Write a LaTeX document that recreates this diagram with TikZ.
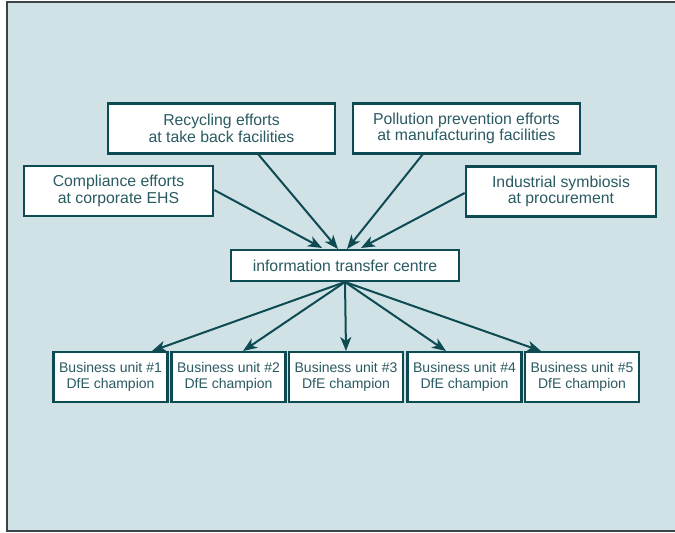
\documentclass[tikz,border=0pt]{standalone}
\usepackage{fontspec}
\setmainfont{Liberation Sans}
\usetikzlibrary{arrows.meta}
\definecolor{bg}{HTML}{D0E2E6}
\definecolor{teal}{HTML}{0E4A52}
\definecolor{txt}{HTML}{2A5A62}
\definecolor{frame}{HTML}{3A4448}
\begin{document}
\begin{tikzpicture}[x=1pt,y=-1pt,
  box/.style={draw=teal,line width=2.6pt,fill=white,inner sep=0pt,align=center,
    text=txt,font=\fontsize{15.8}{16.3}\selectfont},
  bubox/.style={box,font=\fontsize{14}{16.3}\selectfont},
  conn/.style={draw=teal,line width=2pt,-{Stealth[length=14pt,width=11pt,inset=4pt]}}]
\useasboundingbox (0,0) rectangle (675,533);
\draw[fill=bg,draw=frame,line width=1.5pt] (7,2) rectangle (680,531);
% top boxes
\node[box,minimum width=227pt,minimum height=50pt] (rec) at (221.5,128.5) {Recycling efforts\\at take back facilities};
\node[box,minimum width=227pt,minimum height=50pt] (pol) at (466.5,128.5) {Pollution prevention efforts\\at manufacturing facilities};
\node[box,minimum width=189pt,minimum height=50pt] (com) at (118.5,191) {Compliance efforts\\at corporate EHS};
\node[box,minimum width=190pt,minimum height=50pt] (ind) at (561,191.5) {Industrial symbiosis\\at procurement};
\node[box,minimum width=228pt,minimum height=31pt] (info) at (345,265.5) {information transfer centre};
% business units
\foreach \i/\x in {1/110.5,2/228.5,3/346,4/464.5,5/582}{
  \node[bubox,minimum width=114pt,minimum height=50pt] (bu\i) at (\x,377) {Business unit \#\i\\DfE champion};
}
% connectors in
\coordinate (tc) at (322,248);
\coordinate (tr) at (338,249);
\coordinate (tp) at (347,249);
\coordinate (ti) at (361,248);
\draw[conn] (com.east |- 0,190) -- (tc);
\draw[conn] (258,154) -- (tr);
\draw[conn] (423,154) -- (tp);
\draw[conn] (ind.west |- 0,193) -- (ti);
% connectors out
\coordinate (ob) at (345,282);
\foreach \i/\x in {1/152,2/243,3/346,4/446,5/541}{
  \draw[conn] (ob) -- (\x,351);
}
\end{tikzpicture}
\end{document}
